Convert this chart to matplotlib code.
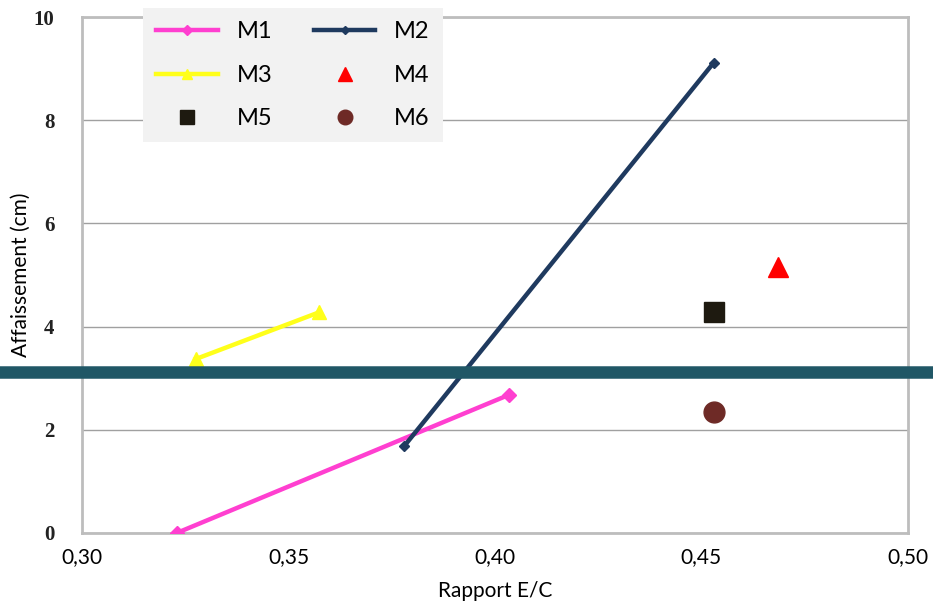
import numpy as np
import matplotlib
matplotlib.use("Agg")
import matplotlib.pyplot as plt
from matplotlib.lines import Line2D
from matplotlib.transforms import blended_transform_factory

plt.rcParams['font.family'] = ['Lato', 'DejaVu Sans']

# data
m1_x = [0.323, 0.4035]
m1_y = [0.0, 2.68]
m2_x = [0.378, 0.453]
m2_y = [1.68, 9.12]
m3_x = [0.3275, 0.3575]
m3_y = [3.37, 4.28]
m4_x = [0.4685]
m4_y = [5.15]
m5_x = [0.453]
m5_y = [4.28]
m6_x = [0.453]
m6_y = [2.35]
threshold = 3.12

x_ticks = [0.30, 0.35, 0.40, 0.45, 0.50]
x_tick_labels = ["0,30", "0,35", "0,40", "0,45", "0,50"]
y_ticks = [0, 2, 4, 6, 8, 10]

fig = plt.figure(figsize=(9.33, 6.16), dpi=100)
ax = fig.add_axes([0.088, 0.135, 0.885, 0.837])

h1, = ax.plot(m1_x, m1_y, color='#FF3FD0', lw=3.2, marker='D', ms=7, label='M1', zorder=4)
h2, = ax.plot(m2_x, m2_y, color='#1F3A5F', lw=3.2, marker='D', ms=5.5, label='M2', zorder=4)
h3, = ax.plot(m3_x, m3_y, color='#FFFF1A', lw=3.2, marker='^', ms=10, label='M3', zorder=4)
h4, = ax.plot(m4_x, m4_y, color='#FF0000', lw=0, marker='^', ms=14, label='M4', zorder=4)
h5, = ax.plot(m5_x, m5_y, color='#1E1A10', lw=0, marker='s', ms=15, label='M5', zorder=4)
h6, = ax.plot(m6_x, m6_y, color='#6E2A26', lw=0, marker='o', ms=15, label='M6', zorder=4)

# thick horizontal line across the whole figure width
trans = blended_transform_factory(fig.transFigure, ax.transData)
fig.add_artist(Line2D([0, 1], [threshold, threshold], transform=trans,
                      color='#205766', lw=9, zorder=5))

ax.set_xlim(0.30, 0.50)
ax.set_ylim(0, 10)
ax.set_xticks(x_ticks)
ax.set_xticklabels(x_tick_labels, fontsize=15)
ax.set_yticks(y_ticks)
ax.set_yticklabels([str(v) for v in y_ticks], fontsize=15,
                   family=['Liberation Serif', 'DejaVu Serif'], fontweight='bold', color='#222222')
ax.tick_params(axis='x', length=0, pad=10)
ax.tick_params(axis='y', length=0, pad=20)
ax.grid(axis='y', color='#A0A0A0', lw=1)
ax.set_axisbelow(True)
for s in ax.spines.values():
    s.set_color('#BDBDBD')
    s.set_linewidth(2)

ax.set_xlabel('Rapport E/C', fontsize=15, labelpad=10)
ax.set_ylabel('Affaissement (cm)', fontsize=15, labelpad=2)

# row-wise legend order: M1 M2 / M3 M4 / M5 M6
leg = ax.legend([h1, h3, h5, h2, h4, h6], ['M1', 'M3', 'M5', 'M2', 'M4', 'M6'],
                loc='upper left', bbox_to_anchor=(0.074, 1.017, 0.363, 0.0), mode='expand',
                ncol=2, fontsize=17, frameon=True, fancybox=False, facecolor='#F2F2F2',
                edgecolor='none', framealpha=1, handlelength=2.6, borderaxespad=0,
                labelspacing=0.95, borderpad=0.55, markerscale=0.7)
leg.set_zorder(6)

fig.savefig('out.png', dpi=100)
